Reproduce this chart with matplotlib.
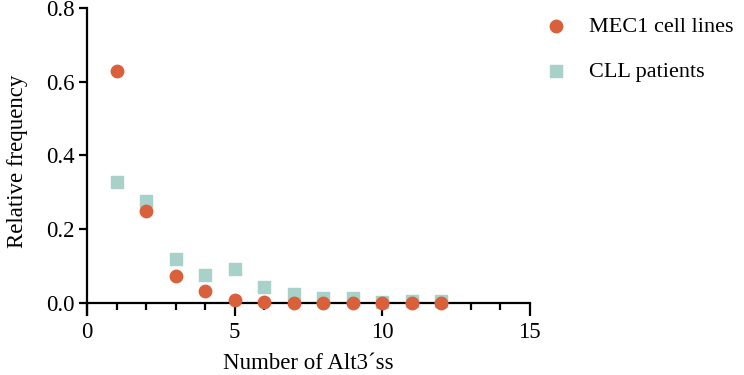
import matplotlib.pyplot as plt
import numpy as np

plt.rcParams['font.family'] = ['Liberation Serif', 'DejaVu Serif']

alt3 = [1, 2, 3, 4, 5, 6, 7, 8, 9, 10, 11, 12]
mec1 = [0.629, 0.248, 0.073, 0.033, 0.008, 0.002, 0.0, 0.0, 0.0, 0.0, 0.0, 0.0]
cll = [0.329, 0.275, 0.119, 0.075, 0.093, 0.044, 0.025, 0.013, 0.013, 0.002, 0.005, 0.005]

orange = '#D9603B'
teal = '#A8D1CA'

fig = plt.figure(figsize=(7.44, 3.75), dpi=100)
ax = fig.add_axes([0.117, 0.16, 0.595, 0.819])

ax.scatter(alt3, cll, marker='s', s=70, color=teal, label='CLL patients', zorder=3, clip_on=False)
ax.scatter(alt3, mec1, marker='o', s=80, color=orange, label='MEC1 cell lines', zorder=4, clip_on=False)

ax.set_xlim(0, 15)
ax.set_ylim(-0.033, 0.8)
ax.spines['top'].set_visible(False)
ax.spines['right'].set_visible(False)
ax.spines['bottom'].set_position(('data', 0))
for s in ['left', 'bottom']:
    ax.spines[s].set_linewidth(1.6)

ax.set_xticks(np.arange(0, 16, 5))
ax.set_xticks(np.arange(0, 16, 1), minor=True)
ax.set_yticks(np.arange(0, 0.81, 0.2))
ax.set_yticklabels(['0.0', '0.2', '0.4', '0.6', '0.8'])
ax.tick_params(axis='x', which='major', length=9, width=1.6, labelsize=16.5, pad=5)
ax.tick_params(axis='x', which='minor', length=5, width=1.6)
ax.tick_params(axis='y', length=6, width=1.6, labelsize=16.5, pad=3)

ax.set_xlabel('Number of Alt3´ss', fontsize=16.5, labelpad=7)
ax.set_ylabel('Relative frequency', fontsize=16.5, labelpad=13)

h, l = ax.get_legend_handles_labels()
fig.legend(h[::-1], l[::-1], loc='upper left', bbox_to_anchor=(0.69, 1.01), frameon=False,
           fontsize=16, handletextpad=0.5, labelspacing=1.1, markerscale=1.0)

fig.savefig('out.png', dpi=100)
